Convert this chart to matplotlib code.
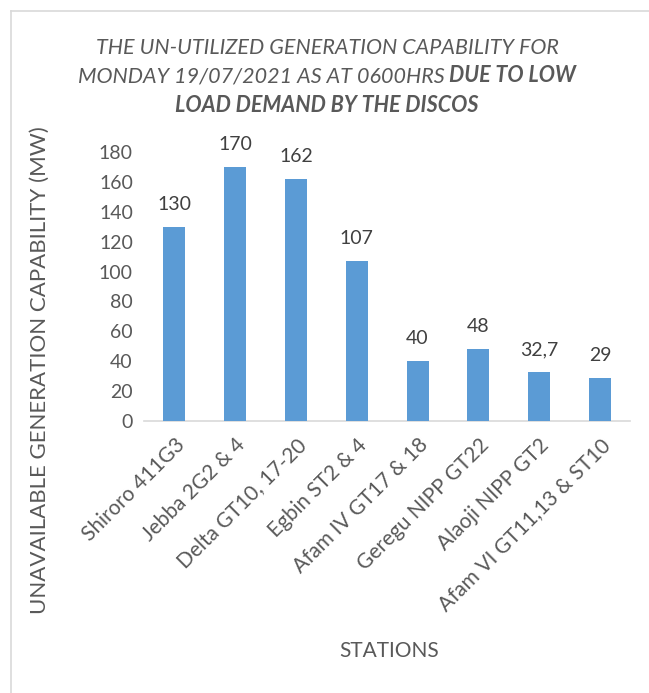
import matplotlib
matplotlib.use("Agg")
import matplotlib.pyplot as plt
from matplotlib.lines import Line2D

stations = ["Shiroro 411G3", "Jebba 2G2 & 4", "Delta GT10, 17-20", "Egbin ST2 & 4",
            "Afam IV GT17 & 18", "Geregu NIPP GT22", "Alaoji NIPP GT2", "Afam VI GT11,13 & ST10"]
values = [130, 170, 162, 107, 40, 48, 32.7, 29]
value_labels = ["130", "170", "162", "107", "40", "48", "32,7", "29"]
yticks = [0, 20, 40, 60, 80, 100, 120, 140, 160, 180]

FONT = "Lato"
TXT = "#595959"
plt.rcParams["font.family"] = [FONT, "DejaVu Sans"]

fig = plt.figure(figsize=(6.49, 6.93), dpi=100)
ax = fig.add_axes([0.2219, 0.3925, 0.7494, 0.3882])

x = list(range(len(stations)))
ax.bar(x, values, width=0.36, color="#5B9BD5", zorder=3)
for xi, v, lab in zip(x, values, value_labels):
    ax.annotate(lab, (xi, v), xytext=(0, 10), textcoords="offset points",
                ha="center", va="bottom", fontsize=14, color="#404040")

ax.set_xlim(-0.5, len(stations) - 0.5)
ax.set_ylim(0, 180)
ax.set_yticks(yticks)
ax.set_yticklabels([str(t) for t in yticks], fontsize=14, color=TXT)
ax.set_xticks(x)
ax.set_xticklabels(stations, rotation=45, ha="right", rotation_mode="anchor",
                   fontsize=15, color=TXT)
ax.tick_params(axis="y", length=0, pad=8)
ax.tick_params(axis="x", length=0, pad=10)
for s in ["top", "right", "left"]:
    ax.spines[s].set_visible(False)
ax.spines["bottom"].set_color("#D9D9D9")
ax.spines["bottom"].set_linewidth(1.2)

fig.text(40 / 649, 1 - 370 / 693, "UNAVAILABLE GENERATION CAPABILITY (MW)", rotation=90,
         ha="center", va="center", fontsize=16, color=TXT)
fig.text(389 / 649, 1 - 651 / 693, "STATIONS", ha="center", va="center",
         fontsize=15, color=TXT)

# Title
cx = 327 / 649
TS = 15.5
fig.text(cx, 1 - 48 / 693, "THE UN-UTILIZED GENERATION CAPABILITY FOR", ha="center",
         va="center", fontsize=TS, style="italic", color=TXT)
fig.text(cx, 1 - 105 / 693, "LOAD DEMAND BY THE DISCOS", ha="center",
         va="center", fontsize=TS, style="italic", weight="bold", color=TXT)
renderer = fig.canvas.get_renderer()
y2 = 1 - 76 / 693
ta = fig.text(0, y2, "MONDAY 19/07/2021 AS AT 0600HRS ", ha="left", va="center",
              fontsize=TS, style="italic", color=TXT)
tb = fig.text(0, y2, "DUE TO LOW", ha="left", va="center",
              fontsize=TS, style="italic", weight="bold", color=TXT)
wa = ta.get_window_extent(renderer).width / fig.bbox.width
wb = tb.get_window_extent(renderer).width / fig.bbox.width
x0 = cx - (wa + wb) / 2
ta.set_x(x0)
tb.set_x(x0 + wa)

# frame lines (chart border)
fig.add_artist(Line2D([11 / 649, 1.0], [1 - 11 / 693] * 2, color="#D9D9D9", lw=1.2))
fig.add_artist(Line2D([11 / 649] * 2, [0.0, 1 - 11 / 693], color="#D9D9D9", lw=1.2))

fig.savefig("out.png", dpi=100)
